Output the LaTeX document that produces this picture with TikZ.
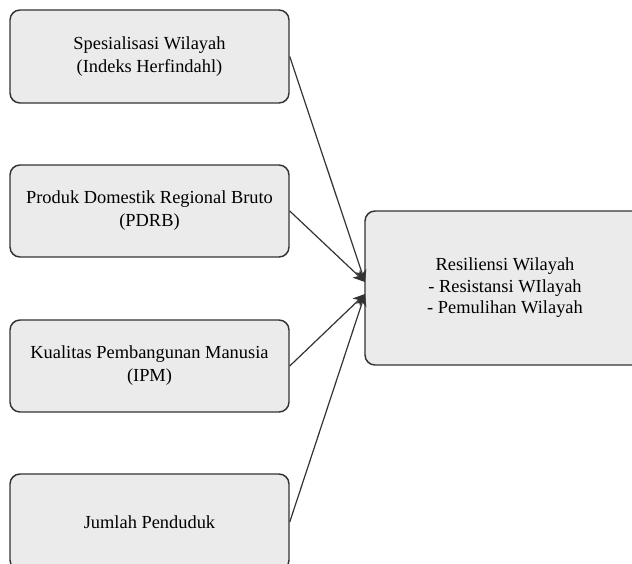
\documentclass[tikz,border=0pt]{standalone}
\usepackage{fontspec}
\setmainfont{Liberation Serif}
\usetikzlibrary{arrows.meta}
\definecolor{boxfill}{HTML}{EBEBEB}
\definecolor{boxline}{HTML}{333333}
\definecolor{txt}{HTML}{000000}
\tikzset{
  inbox/.style={draw=boxline, fill=boxfill, line width=1.1pt, rounded corners=7.5pt,
    minimum width=209.25pt, align=center, text=txt, inner sep=0pt,
    font=\fontsize{13.8pt}{17.25pt}\selectfont},
  outbox/.style={inbox, minimum width=210pt, minimum height=115.5pt,
    font=\fontsize{13.8pt}{16.1pt}\selectfont},
  conn/.style={draw=boxline, line width=0.9pt, -{Stealth[length=9pt,width=8pt,inset=2.5pt]}}
}
\begin{document}
\begin{tikzpicture}[x=0.75pt,y=-0.75pt]
\useasboundingbox (0,0) rectangle (632,564);
\clip (0,0) rectangle (632,564);
\fill[white] (0,0) rectangle (632,564);
\node[inbox, minimum height=69.75pt] (b1) at (149.5,56.5) {Spesialisasi Wilayah\\(Indeks Herfindahl)};
\node[inbox, minimum height=69pt] (b2) at (149.5,211) {Produk Domestik Regional Bruto\\(PDRB)};
\node[inbox, minimum height=69pt] (b3) at (149.5,366) {Kualitas Pembangunan Manusia\\(IPM)};
\node[inbox, minimum height=72pt] (b4) at (149.5,522) {Jumlah Penduduk};
\node[outbox] (r) at (505,288) {Resiliensi Wilayah\\- Resistansi WIlayah\\- Pemulihan Wilayah};
\coordinate (t1) at (365,282);
\coordinate (t2) at (365,294);
\draw[conn] (b1.east) -- (t1);
\draw[conn] (b2.east) -- (t1);
\draw[conn] (b3.east) -- (t2);
\draw[conn] (b4.east) -- (t2);
\end{tikzpicture}
\end{document}
